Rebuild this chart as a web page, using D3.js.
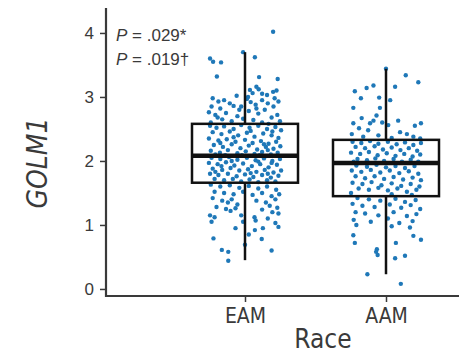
<!DOCTYPE html>
<html>
<head>
<meta charset="utf-8">
<script src="https://cdn.jsdelivr.net/npm/d3@7"></script>
<style>
  body { margin: 0; background: #fff; }
  svg { display: block; }
</style>
</head>
<body>
<div id="chart"></div>
<script>
// categories and box statistics
const races = ["EAM", "AAM"];
const q1 = [1.66, 1.45];
const median = [2.08, 1.97];
const q3 = [2.58, 2.33];
const whiskerLow = [0.45, 0.23];
const whiskerHigh = [3.70, 3.44];
const yTicks = [0, 1, 2, 3, 4];
const pLabels = ["P = .029*", "P = .019\u2020"];

// jittered points: [horizontal jitter (-1..1), GOLM1 value]
const eamPoints = [
  [0.74,4.02],[-0.92,3.60],[-0.84,3.55],[-0.63,3.54],[-0.05,3.70],[0.26,3.62],[-0.74,3.32],[0.37,3.31],[0.86,3.28],[0.30,3.16],
  [0.13,3.11],[0.74,3.08],[0.83,3.10],[0.45,3.05],[-0.22,3.02],[0.58,3.03],[0.08,3.00],[0.36,3.12],[0.20,3.06],
  [-0.85,2.98],[-0.70,2.93],[-0.55,2.95],[-0.40,2.90],[-0.88,2.85],[-0.65,2.82],[-0.30,2.86],[-0.15,2.80],[0.05,2.97],[0.15,2.92],
  [0.28,2.88],[0.45,2.95],[0.60,2.90],[0.75,2.85],[0.88,2.93],[-0.95,2.76],[-0.78,2.72],[-0.50,2.75],[-0.20,2.70],[0.10,2.78],
  [0.35,2.74],[0.52,2.80],[0.70,2.68],[0.85,2.72],[-0.60,2.65],[-0.35,2.62],[-0.05,2.66],[0.22,2.64],[0.45,2.60],[0.92,2.62],
  [-0.90,2.60],[0.62,2.58],[-0.10,2.85],[0.30,2.82],[-0.72,2.68],[0.78,2.98],
  [-0.92,2.55],[-0.75,2.52],[-0.55,2.54],[-0.30,2.50],[-0.10,2.56],[0.12,2.52],[0.35,2.55],[0.58,2.50],[0.80,2.53],[0.95,2.48],
  [-0.85,2.45],[-0.62,2.42],[-0.40,2.46],[-0.18,2.40],[0.05,2.44],[0.25,2.38],[0.48,2.43],[0.70,2.40],[0.88,2.36],
  [-0.95,2.35],[-0.70,2.32],[-0.48,2.34],[-0.25,2.30],[0.00,2.33],[0.20,2.28],[0.42,2.31],[0.62,2.27],[0.82,2.30],
  [-0.82,2.25],[-0.58,2.22],[-0.35,2.26],[-0.12,2.20],[0.10,2.24],[0.32,2.18],[0.55,2.22],[0.75,2.19],[0.93,2.23],
  [-0.90,2.16],[-0.66,2.13],[-0.45,2.17],[-0.20,2.12],[0.02,2.15],[0.25,2.11],[0.45,2.14],[0.68,2.10],[0.86,2.13],
  [-0.78,2.10],[-0.52,2.09],[-0.08,2.09],[0.38,2.09],[0.60,2.17],[-0.30,2.37],[0.15,2.47],[0.72,2.46],[-0.65,2.28],[0.50,2.26],
  [-0.88,2.05],[-0.65,2.03],[-0.42,2.06],[-0.20,2.02],[0.05,2.05],[0.28,2.01],[0.50,2.04],[0.72,2.00],[0.92,2.03],
  [-0.95,1.97],[-0.72,1.95],[-0.50,1.98],[-0.28,1.93],[-0.05,1.96],[0.18,1.92],[0.40,1.95],[0.62,1.90],[0.84,1.94],
  [-0.85,1.88],[-0.60,1.86],[-0.38,1.89],[-0.15,1.85],[0.08,1.87],[0.30,1.83],[0.52,1.86],[0.75,1.82],[0.95,1.85],
  [-0.92,1.80],[-0.70,1.78],[-0.45,1.80],[-0.22,1.76],[0.00,1.79],[0.22,1.75],[0.45,1.78],[0.68,1.74],[0.88,1.77],
  [-0.80,1.72],[-0.55,1.70],[-0.32,1.72],[-0.10,1.68],[0.12,1.71],[0.35,1.67],[0.58,1.70],[0.80,1.68],
  [-0.62,1.92],[0.35,1.99],[-0.35,2.00],[0.70,1.97],[-0.78,1.83],[0.15,1.81],[0.60,1.80],
  [-0.90,1.63],[-0.65,1.60],[-0.40,1.62],[-0.15,1.58],[0.10,1.61],[0.35,1.57],[0.58,1.60],[0.82,1.55],
  [-0.80,1.52],[-0.55,1.50],[-0.30,1.48],[-0.05,1.52],[0.20,1.47],[0.45,1.50],[0.70,1.45],[0.90,1.48],
  [-0.85,1.42],[-0.60,1.38],[-0.45,1.35],[-0.35,1.40],[-0.20,1.32],[0.30,1.38],[0.55,1.35],[0.80,1.40],[0.65,1.30],
  [-0.75,1.28],[-0.50,1.25],[-0.38,1.22],[-0.25,1.26],[0.45,1.24],[0.72,1.20],[0.85,1.27],
  [-0.92,1.15],[-0.80,1.12],[-0.10,1.15],[0.25,1.12],[0.60,1.10],[0.88,1.18],
  [-0.88,1.05],[-0.05,1.05],[0.28,1.07],[0.80,1.03],[0.88,0.97],
  [-0.83,0.79],[-0.61,0.61],[-0.44,0.58],[-0.44,0.44],[0.00,0.69],[0.44,0.78],[0.70,0.60],[0.47,0.95],[0.26,0.92],[-0.25,0.95],[0.10,0.85]
];

const aamPoints = [
  [0.00,3.44],[0.52,3.34],[0.85,3.23],[-0.82,3.09],[-0.51,3.14],[-0.33,3.18],[0.24,3.16],[-0.66,2.98],[-0.18,2.99],[0.11,2.95],
  [-0.86,2.83],[-0.16,2.83],[-0.25,2.71],[-0.64,2.67],[-0.86,2.59],[-0.42,2.59],[-0.33,2.63],[-0.10,2.60],[0.32,2.63],[0.76,2.55],
  [0.92,2.59],[-0.71,2.51],[-0.47,2.48],[0.06,2.56],[0.37,2.45],[0.55,2.42],[0.72,2.38],[-0.20,2.40],[-0.60,2.38],[0.15,2.36],
  [-0.90,2.42],[0.90,2.35],
  [-0.88,2.30],[-0.65,2.28],[-0.42,2.31],[-0.20,2.27],[0.05,2.30],[0.28,2.26],[0.50,2.29],[0.72,2.25],[0.92,2.28],
  [-0.80,2.22],[-0.55,2.20],[-0.30,2.23],[-0.08,2.18],[0.15,2.21],[0.38,2.17],[0.60,2.20],[0.82,2.16],
  [-0.92,2.13],[-0.68,2.11],[-0.45,2.14],[-0.22,2.09],[0.02,2.12],[0.25,2.08],[0.48,2.11],[0.70,2.07],[0.90,2.10],
  [-0.75,2.03],[-0.50,2.01],[-0.28,2.04],[-0.05,2.00],[0.20,2.03],[0.42,1.99],[0.65,2.02],[0.85,1.99],[-0.85,1.99],
  [-0.78,1.93],[-0.50,1.91],[-0.25,1.94],[0.00,1.90],[0.25,1.92],[0.50,1.89],[0.75,1.92],
  [-0.90,1.85],[-0.65,1.83],[-0.40,1.86],[-0.15,1.82],[0.10,1.85],[0.35,1.81],[0.60,1.84],[0.85,1.80],
  [-0.80,1.76],[-0.55,1.73],[-0.30,1.76],[-0.05,1.72],[0.20,1.75],[0.45,1.71],[0.70,1.74],[0.92,1.70],
  [-0.88,1.66],[-0.62,1.64],[-0.38,1.67],[-0.12,1.62],[0.15,1.65],[0.40,1.61],[0.65,1.64],[0.88,1.60],
  [-0.72,1.57],[-0.45,1.55],[-0.20,1.58],[0.05,1.54],[0.30,1.57],[0.55,1.52],[0.80,1.55],[-0.92,1.50],[0.15,1.48],[0.68,1.47],
  [-0.75,1.42],[-0.45,1.40],[-0.15,1.38],[0.25,1.41],[0.50,1.36],[0.78,1.39],
  [-0.88,1.33],[-0.62,1.30],[-0.30,1.28],[0.10,1.32],[0.40,1.27],[0.65,1.31],[0.90,1.25],
  [-0.80,1.20],[-0.55,1.18],[-0.20,1.15],[0.20,1.20],[0.55,1.14],[0.80,1.17],
  [-0.85,1.08],[-0.40,1.05],[0.05,1.10],[0.35,1.03],[0.70,1.06],
  [-0.78,1.00],[0.15,0.98],[0.63,0.96],
  [-0.86,0.84],[-0.82,0.72],[0.26,0.72],[0.72,0.83],[0.92,0.77],
  [-0.24,0.62],[-0.22,0.53],[-0.26,0.58],[0.24,0.48],[0.50,0.52],[-0.49,0.23],[0.39,0.08]
];

const width = 459, height = 354;
const axisColor = "#3a3a3a";
const narrow = "'Liberation Sans Narrow', 'DejaVu Sans Condensed', 'Liberation Sans', sans-serif";
const regular = "'Liberation Sans', Arial, sans-serif";

const svg = d3.select("#chart").append("svg")
  .attr("width", width)
  .attr("height", height);

const plot = { left: 106, right: 459, top: 8, bottom: 296 };

const x = d3.scalePoint().domain(races).range([245, 386]);
const y = d3.scaleLinear().domain([-0.11, 4.39]).range([plot.bottom, plot.top]);
const jitter = d3.scaleLinear().domain([-1, 1]).range([-38, 38]);
const boxHalf = 53;

// points
const groups = [eamPoints, aamPoints];
groups.forEach((pts, i) => {
  svg.append("g")
    .selectAll("circle")
    .data(pts)
    .enter().append("circle")
    .attr("cx", d => x(races[i]) + jitter(d[0]))
    .attr("cy", d => y(d[1]))
    .attr("r", 2.2)
    .attr("fill", "#1f78b8");
});

// boxes
const boxes = svg.append("g");
races.forEach((r, i) => {
  const cx = x(r);
  boxes.append("line")
    .attr("x1", cx).attr("x2", cx)
    .attr("y1", y(q3[i])).attr("y2", y(whiskerHigh[i]))
    .attr("stroke", "#111").attr("stroke-width", 2.5);
  boxes.append("line")
    .attr("x1", cx).attr("x2", cx)
    .attr("y1", y(q1[i])).attr("y2", y(whiskerLow[i]))
    .attr("stroke", "#111").attr("stroke-width", 2.5);
  boxes.append("rect")
    .attr("x", cx - boxHalf)
    .attr("y", y(q3[i]))
    .attr("width", boxHalf * 2)
    .attr("height", y(q1[i]) - y(q3[i]))
    .attr("fill", "none")
    .attr("stroke", "#111")
    .attr("stroke-width", 2.5);
  boxes.append("line")
    .attr("x1", cx - boxHalf).attr("x2", cx + boxHalf)
    .attr("y1", y(median[i])).attr("y2", y(median[i]))
    .attr("stroke", "#111").attr("stroke-width", 4.5);
});

// y axis
const yAxis = svg.append("g")
  .attr("transform", `translate(${plot.left},0)`)
  .call(d3.axisLeft(y).tickValues(yTicks).tickSize(6).tickPadding(6).tickFormat(d3.format("d")));
yAxis.select(".domain").remove();
yAxis.selectAll(".tick line").attr("stroke", axisColor).attr("stroke-width", 1.5);
yAxis.selectAll(".tick text")
  .attr("fill", axisColor)
  .style("font-family", regular)
  .style("font-size", "17px");

svg.append("line")
  .attr("x1", plot.left).attr("x2", plot.left)
  .attr("y1", plot.top).attr("y2", plot.bottom + 1)
  .attr("stroke", axisColor).attr("stroke-width", 2.2);

// x axis
const xAxis = svg.append("g")
  .attr("transform", `translate(0,${plot.bottom})`)
  .call(d3.axisBottom(x).tickSize(6).tickPadding(6));
xAxis.select(".domain").remove();
xAxis.selectAll(".tick line").attr("stroke", axisColor).attr("stroke-width", 1.5);
xAxis.selectAll(".tick text")
  .attr("fill", axisColor)
  .style("font-family", narrow)
  .style("font-size", "21px");

svg.append("line")
  .attr("x1", plot.left - 1).attr("x2", plot.right)
  .attr("y1", plot.bottom).attr("y2", plot.bottom)
  .attr("stroke", axisColor).attr("stroke-width", 2.2);

// axis titles
svg.append("text")
  .attr("x", 323)
  .attr("y", 348)
  .attr("text-anchor", "middle")
  .attr("fill", axisColor)
  .style("font-family", narrow)
  .style("font-size", "26px")
  .text("Race");

svg.append("text")
  .attr("transform", "translate(47,163) rotate(-90)")
  .attr("text-anchor", "middle")
  .attr("fill", axisColor)
  .style("font-family", narrow)
  .style("font-size", "28px")
  .style("font-style", "italic")
  .text("GOLM1");

// p-values
const pText = svg.append("g")
  .style("font-family", regular)
  .style("font-size", "17px")
  .attr("fill", axisColor);
pLabels.forEach((lbl, i) => {
  const t = pText.append("text").attr("x", 116).attr("y", 41 + i * 24);
  t.append("tspan").style("font-style", "italic").text(lbl.slice(0, 1));
  t.append("tspan").text(lbl.slice(1));
});
</script>
</body>
</html>
